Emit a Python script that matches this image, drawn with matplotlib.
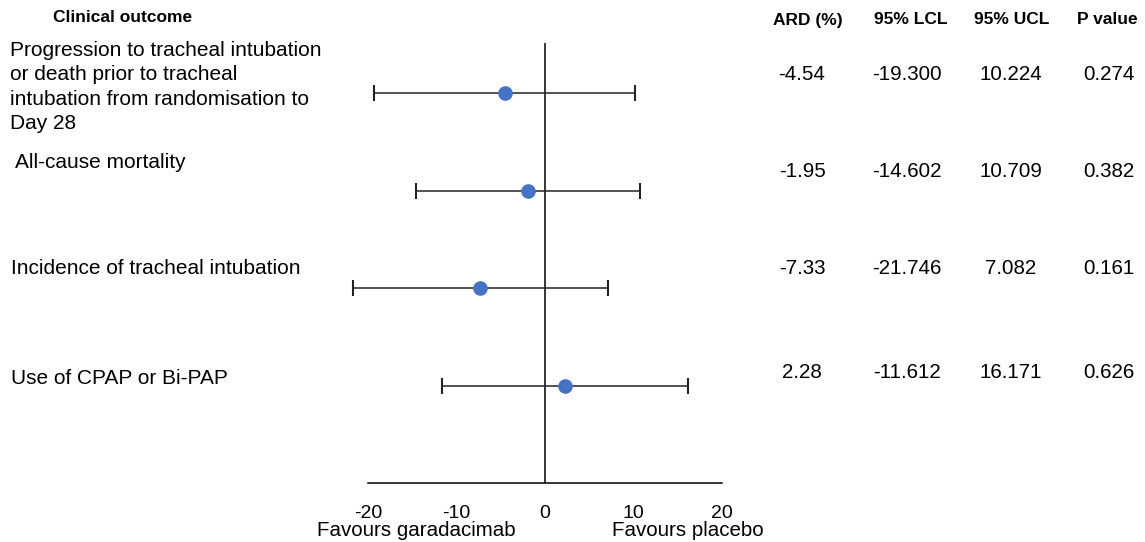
import matplotlib
matplotlib.use("Agg")
import matplotlib.pyplot as plt

outcomes = [
    "Progression to tracheal intubation\nor death prior to tracheal\nintubation from randomisation to\nDay 28",
    "All-cause mortality",
    "Incidence of tracheal intubation",
    "Use of CPAP or Bi-PAP",
]
ard = [-4.54, -1.95, -7.33, 2.28]
lcl = [-19.300, -14.602, -21.746, -11.612]
ucl = [10.224, 10.709, 7.082, 16.171]
pval = [0.274, 0.382, 0.161, 0.626]
headers = ["ARD (%)", "95% LCL", "95% UCL", "P value"]
xticks = [-20, -10, 0, 10, 20]

plt.rcParams['font.family'] = ['Liberation Sans', 'DejaVu Sans']

W, H = 1145, 542
fig = plt.figure(figsize=(W / 100, H / 100), dpi=100)

def fx(px):
    return px / W

def fy(py):
    return 1 - py / H

ax = fig.add_axes([fx(368), fy(483), fx(722) - fx(368), fy(43) - fy(483)])
ypos = list(range(len(ard)))
xerr = [[a - l for a, l in zip(ard, lcl)], [u - a for a, u in zip(ard, ucl)]]
ax.axvline(0, color='black', lw=1.1, zorder=1)
eb = ax.errorbar(ard, ypos, xerr=xerr, fmt='o', color='#4472C4', ecolor='#222222',
                 elinewidth=1.1, capsize=5.5, capthick=1.5, markersize=9.5, zorder=3)
eb.lines[0].set_clip_on(False)
for artist in eb.lines[1]:
    artist.set_clip_on(False)
for c in ax.collections:
    c.set_clip_on(False)
ax.set_xlim(-20, 20)
ax.set_ylim(3.99, -0.51)
for s in ['top', 'right', 'left']:
    ax.spines[s].set_visible(False)
ax.spines['bottom'].set_linewidth(1.1)
ax.set_yticks([])
ax.set_xticks(xticks)
ax.set_xticklabels([str(t) for t in xticks], fontsize=14)
ax.tick_params(axis='x', length=0, pad=16)

fig.text(fx(416), fy(530), "Favours garadacimab", fontsize=14.8, ha='center', va='center')
fig.text(fx(688), fy(530), "Favours placebo", fontsize=14.8, ha='center', va='center')

# Headers
fig.text(fx(123), fy(18), "Clinical outcome", fontsize=12.5, fontweight='bold', ha='center', va='center')
col_x = [808, 911, 1012, 1107]
for h, x in zip(headers, col_x):
    fig.text(fx(x), fy(20), h, fontsize=12.5, fontweight='bold', ha='center', va='center')

# Outcome labels
label_pos = [(10, 87), (15, 162), (11, 268), (11, 378)]
for lab, (x, y) in zip(outcomes, label_pos):
    fig.text(fx(x), fy(y), lab, fontsize=15, ha='left', va='center', linespacing=1.36)

# Table values
val_x = [802, 907, 1011, 1109]
val_y = [74, 171, 269, 372]
for i in range(len(ard)):
    cells = [f"{ard[i]:.2f}", f"{lcl[i]:.3f}", f"{ucl[i]:.3f}", f"{pval[i]:.3f}"]
    for c, x in zip(cells, val_x):
        fig.text(fx(x), fy(val_y[i]), c, fontsize=14.8, ha='center', va='center')

fig.savefig("out.png", dpi=100)
